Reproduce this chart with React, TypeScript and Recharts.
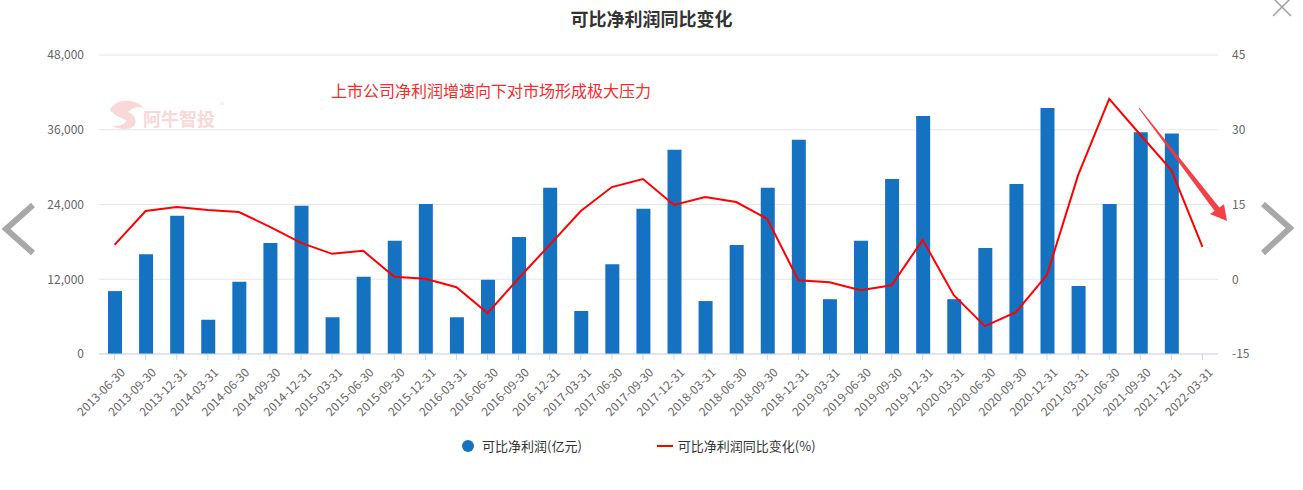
import React from "react";
import {
  ComposedChart,
  Bar,
  Line,
  XAxis,
  YAxis,
  CartesianGrid,
  Legend,
} from "recharts";

const categories = [
  "2013-06-30", "2013-09-30", "2013-12-31",
  "2014-03-31", "2014-06-30", "2014-09-30", "2014-12-31",
  "2015-03-31", "2015-06-30", "2015-09-30", "2015-12-31",
  "2016-03-31", "2016-06-30", "2016-09-30", "2016-12-31",
  "2017-03-31", "2017-06-30", "2017-09-30", "2017-12-31",
  "2018-03-31", "2018-06-30", "2018-09-30", "2018-12-31",
  "2019-03-31", "2019-06-30", "2019-09-30", "2019-12-31",
  "2020-03-31", "2020-06-30", "2020-09-30", "2020-12-31",
  "2021-03-31", "2021-06-30", "2021-09-30", "2021-12-31",
  "2022-03-31",
];

// 可比净利润(亿元)
const profit: (number | null)[] = [
  10100, 16000, 22200,
  5500, 11600, 17800, 23800,
  5900, 12400, 18200, 24100,
  5900, 11900, 18800, 26700,
  6900, 14400, 23300, 32800,
  8500, 17500, 26700, 34400,
  8800, 18200, 28100, 38200,
  8800, 17000, 27300, 39500,
  10900, 24100, 35600, 35400,
  null,
];

// 可比净利润同比变化(%)
const yoy = [
  6.9, 13.7, 14.5,
  13.9, 13.5, 10.5, 7.3,
  5.1, 5.7, 0.5, 0.1,
  -1.6, -6.8, 0.2, 6.9,
  13.7, 18.5, 20.1, 14.9,
  16.5, 15.5, 12.1, -0.2,
  -0.6, -2.2, -1.2, 7.9,
  -3.2, -9.4, -6.6, 0.9,
  20.9, 36.2, 29.0, 21.9,
  6.5,
];

const leftTicks = [0, 12000, 24000, 36000, 48000];
const rightTicks = [-15, 0, 15, 30, 45];

const data = categories.map((date, i) => ({
  date,
  profit: profit[i],
  yoy: yoy[i],
}));

const FONT = '"Noto Sans CJK SC", "Noto Sans", sans-serif';
const BAR_COLOR = "#1572c1";
const LINE_COLOR = "#ff0000";

function DateTick(props: any) {
  const { x, y, payload } = props;
  return (
    <text
      transform={`translate(${x + 5},${y + 5}) rotate(-45)`}
      textAnchor="end"
      dy="0.75em"
      fontSize={12}
      fill="#666"
      fontFamily={FONT}
    >
      {payload.value}
    </text>
  );
}

function LegendContent() {
  return (
    <div
      style={{
        display: "flex",
        alignItems: "center",
        fontFamily: FONT,
        fontSize: 13,
        color: "#333",
        paddingLeft: 461,
      }}
    >
      <span style={{ display: "flex", alignItems: "center", marginRight: 74 }}>
        <svg width={14} height={14} style={{ marginRight: 7 }}>
          <circle cx={7} cy={7} r={6} fill={BAR_COLOR} />
        </svg>
        可比净利润(亿元)
      </span>
      <span style={{ display: "flex", alignItems: "center" }}>
        <svg width={18} height={14} style={{ marginRight: 4 }}>
          <line x1={1} y1={7} x2={17} y2={7} stroke={LINE_COLOR} strokeWidth={2} />
        </svg>
        可比净利润同比变化(%)
      </span>
    </div>
  );
}

export default function App() {
  return (
    <div
      style={{
        position: "absolute",
        left: 0,
        top: 0,
        width: 1303,
        height: 490,
        background: "#fff",
        fontFamily: FONT,
      }}
    >
      <div
        style={{
          position: "absolute",
          top: 5,
          width: "100%",
          textAlign: "center",
          fontSize: 18,
          fontWeight: "bold",
          color: "#333",
        }}
      >
        可比净利润同比变化
      </div>

      <ComposedChart
        width={1303}
        height={490}
        data={data}
        margin={{ top: 55, right: 0, bottom: 76, left: 0 }}
      >
        <CartesianGrid yAxisId="left" vertical={false} stroke="#e6e6e6" />
        <XAxis
          dataKey="date"
          interval={0}
          height={60}
          stroke="#ccd6eb"
          tickSize={6}
          tick={<DateTick />}
        />
        <YAxis
          yAxisId="left"
          width={99}
          domain={[0, 48000]}
          ticks={leftTicks}
          axisLine={false}
          tickLine={false}
          tickSize={0}
          tickMargin={15}
          tickFormatter={(v: number) => v.toLocaleString("en-US")}
          tick={{ fontSize: 12, fill: "#666", fontFamily: FONT }}
        />
        <YAxis
          yAxisId="right"
          orientation="right"
          width={85}
          domain={[-15, 45]}
          ticks={rightTicks}
          axisLine={false}
          tickLine={false}
          tickSize={0}
          tickMargin={14}
          tick={{ fontSize: 12, fill: "#666", fontFamily: FONT }}
        />
        <Bar
          yAxisId="left"
          dataKey="profit"
          name="可比净利润(亿元)"
          fill={BAR_COLOR}
          barSize={14}
          isAnimationActive={false}
        />
        <Line
          yAxisId="right"
          type="linear"
          dataKey="yoy"
          name="可比净利润同比变化(%)"
          stroke={LINE_COLOR}
          strokeWidth={2}
          dot={false}
          activeDot={false}
          isAnimationActive={false}
        />
        <Legend
          layout="horizontal"
          verticalAlign="middle"
          align="center"
          wrapperStyle={{ top: 436, left: 0, width: 1303 }}
          content={<LegendContent />}
        />
      </ComposedChart>

      {/* annotation */}
      <div
        style={{
          position: "absolute",
          left: 331,
          top: 78,
          fontSize: 16,
          color: "#f42c2c",
          whiteSpace: "nowrap",
        }}
      >
        上市公司净利润增速向下对市场形成极大压力
      </div>

      {/* watermark */}
      <svg
        width={140}
        height={50}
        style={{ position: "absolute", left: 104, top: 96, pointerEvents: "none" }}
      >
        <path
          d="M6 14 C 12 2, 30 2, 40 12 C 34 10, 28 12, 24 16 C 30 18, 34 24, 30 30 C 26 34, 16 34, 8 30 C 16 30, 22 28, 22 24 C 18 22, 10 20, 6 14 Z"
          fill="#f8d8d8"
        />
        <text x={39} y={30} fontSize={18} fontWeight="bold" fill="#f8d8d8" fontFamily={FONT}>
          阿牛智投
        </text>
        <text x={116} y={12} fontSize={8} fill="#f8d8d8" fontFamily={FONT}>
          ®
        </text>
      </svg>

      {/* overlay: arrows and close */}
      <svg
        width={1303}
        height={490}
        style={{ position: "absolute", left: 0, top: 0, pointerEvents: "none" }}
      >
        <polyline points="33,205 6,229 33,253" fill="none" stroke="#a8a8a8" strokeWidth={6} />
        <polyline points="1263,204 1290,228 1263,253" fill="none" stroke="#a8a8a8" strokeWidth={6} />
        <line x1={1273} y1={-2} x2={1291} y2={16} stroke="#a0a0a0" strokeWidth={1.5} />
        <line x1={1291} y1={-2} x2={1273} y2={16} stroke="#a0a0a0" strokeWidth={1.5} />
        <polygon
          points="1139.4,107.7 1138.6,108.3 1214.6,211 1210,214 1227,221 1224,204.3 1219.4,207.4"
          fill="#f2383a"
          fillOpacity={0.95}
        />
      </svg>
    </div>
  );
}
